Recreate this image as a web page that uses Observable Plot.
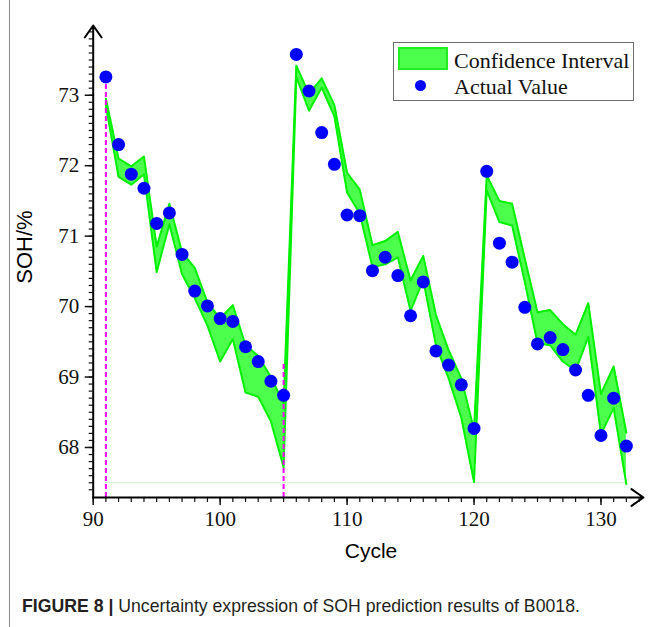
<!DOCTYPE html>
<html>
<head>
<meta charset="utf-8">
<script src="https://cdn.jsdelivr.net/npm/d3@7"></script>
<script src="https://cdn.jsdelivr.net/npm/@observablehq/plot@0.6"></script>
<style>
  html, body { margin: 0; padding: 0; background: #fff; }
  #wrap { position: relative; width: 651px; height: 627px; overflow: hidden; }
  #chart svg text { font-family: "Liberation Serif", "Times New Roman", serif !important; }
  #border { position: absolute; left: 9px; top: 0; width: 1px; height: 627px; background: #8c8c8c; }
  .legend { position: absolute; left: 393px; top: 42px; width: 239px; height: 57px; border: 1px solid #6d6d6d; background: #fff; }
  .sw { position: absolute; left: 4px; top: 4px; width: 46px; height: 19px; background: #4dff4d; border: 2px solid #22ee22; }
  .ld { position: absolute; left: 21px; top: 37px; width: 11px; height: 11px; border-radius: 50%; background: #0000ff; }
  .lt { position: absolute; left: 60px; font-family: "Liberation Serif", "Times New Roman", serif; font-size: 22px; color: #111; line-height: 1; white-space: nowrap; }
  .ytitle { position: absolute; left: 25px; top: 247px; transform: translate(-50%, -50%) rotate(-90deg); font-family: "Liberation Sans", Arial, sans-serif; font-size: 22px; color: #000; white-space: nowrap; }
  .xtitle { position: absolute; left: 371px; top: 551px; transform: translate(-50%, -50%); font-family: "Liberation Sans", Arial, sans-serif; font-size: 21px; color: #000; white-space: nowrap; }
  .caption { position: absolute; left: 22px; top: 595px; font-family: "Liberation Sans Narrow", "Arial Narrow", "Liberation Sans", sans-serif; font-size: 19px; color: #231f20; white-space: nowrap; transform-origin: 0 0; transform: scaleX(0.93); }
  .caption b { font-weight: bold; }
</style>
</head>
<body>
<div id="wrap">
  <div id="chart"></div>
  <div id="border"></div>
  <div class="legend">
    <div class="sw"></div>
    <div class="lt" style="top:7px">Confidence Interval</div>
    <div class="ld"></div>
    <div class="lt" style="top:33px">Actual Value</div>
  </div>
  <div class="ytitle">SOH/%</div>
  <div class="xtitle">Cycle</div>
  <div class="caption"><b>FIGURE 8 |</b> Uncertainty expression of SOH prediction results of B0018.</div>
</div>
<script>
// ---- data ----
const cycles = [91, 92, 93, 94, 95, 96, 97, 98, 99, 100, 101, 102, 103, 104, 105,
  106, 107, 108, 109, 110, 111, 112, 113, 114, 115, 116, 117, 118, 119, 120,
  121, 122, 123, 124, 125, 126, 127, 128, 129, 130, 131, 132];
const actualValue = [73.26, 72.30, 71.88, 71.68, 71.18, 71.33, 70.74, 70.22, 70.01, 69.83, 69.79, 69.43, 69.22, 68.94, 68.74,
  73.58, 73.06, 72.47, 72.02, 71.30, 71.29, 70.51, 70.70, 70.44, 69.87, 70.35, 69.37, 69.17, 68.89, 68.27,
  71.92, 70.90, 70.63, 69.99, 69.47, 69.56, 69.39, 69.10, 68.74, 68.17, 68.70, 68.02];
const ciLower = [72.85, 71.84, 71.73, 71.88, 70.49, 71.17, 70.46, 70.12, 69.73, 69.22, 69.54, 68.78, 68.72, 68.37, 67.72,
  73.26, 72.78, 73.11, 72.70, 71.62, 71.32, 70.56, 70.60, 70.70, 69.94, 70.38, 69.45, 68.98, 68.42, 67.51,
  71.65, 71.20, 71.15, 70.35, 69.48, 69.45, 69.22, 69.09, 69.57, 68.19, 68.56, 67.48];
const ciUpper = [72.95, 72.10, 71.99, 72.13, 70.85, 71.46, 70.77, 70.55, 70.06, 69.83, 70.02, 69.45, 69.30, 69.00, 68.62,
  73.42, 73.02, 73.24, 72.86, 71.90, 71.66, 70.87, 70.93, 71.06, 70.37, 70.72, 69.88, 69.38, 68.98, 68.25,
  71.86, 71.50, 71.46, 70.68, 69.92, 69.95, 69.75, 69.60, 70.05, 68.76, 69.15, 68.21];
const markerCycles = [91, 105];
const markerTops = [73.26, 69.21];
const baselineValue = 67.5;
const yTickValues = [68, 69, 70, 71, 72, 73];
const xTickValues = [90, 100, 110, 120, 130];
const xDomain = [90, 133.35];
const yDomain = [67.29, 73.99];

// ---- build ----
const data = cycles.map((c, i) => ({cycle: c, actual: actualValue[i], lo: ciLower[i], hi: ciUpper[i]}));
const markers = markerCycles.map((c, i) => ({cycle: c, top: markerTops[i]}));
const yMinor = d3.range(Math.round(yDomain[0] * 10) + 1, Math.round(yDomain[1] * 10)).map(d => d / 10);
const xMinor = d3.range(xDomain[0], Math.floor(xDomain[1]) + 1);
const serif = "'Liberation Serif', 'Times New Roman', serif";

const chart = Plot.plot({
  width: 651,
  height: 627,
  marginLeft: 92.7,
  marginRight: 8,
  marginTop: 25,
  marginBottom: 130,
  style: {fontFamily: serif, fontSize: "21px", background: "transparent", color: "#111"},
  x: {domain: xDomain, axis: null},
  y: {domain: yDomain, axis: null},
  marks: [
    Plot.ruleY([baselineValue], {x1: cycles[0], x2: cycles[cycles.length - 1], stroke: "#c9f5c9", strokeWidth: 1}),
    Plot.areaY(data, {x: "cycle", y1: "lo", y2: "hi", fill: "#4dff4d", curve: "linear"}),
    Plot.line(data, {x: "cycle", y: "lo", stroke: "#00f000", strokeWidth: 2}),
    Plot.line(data, {x: "cycle", y: "hi", stroke: "#00f000", strokeWidth: 2}),
    Plot.ruleX(markers, {x: "cycle", y1: yDomain[0], y2: "top", stroke: "#ff00ff", strokeWidth: 2, strokeDasharray: "5,3"}),
    Plot.dot(data, {x: "cycle", y: "actual", r: 6.5, fill: "#0000ff"}),
    // minor ticks
    Plot.axisY({ticks: yMinor, tickSize: 4, tickFormat: () => "", label: null, strokeWidth: 1.2}),
    Plot.axisX({ticks: xMinor, tickSize: 5, tickFormat: () => "", label: null, strokeWidth: 1.2}),
    // major ticks
    Plot.axisY({ticks: yTickValues, tickSize: 8, tickPadding: 6, tickFormat: d => String(d), label: null, strokeWidth: 1.5, fontSize: 21, fontFamily: serif}),
    Plot.axisX({ticks: xTickValues, tickSize: 8, tickPadding: 6, tickFormat: d => String(d), label: null, strokeWidth: 1.5, fontSize: 21, fontFamily: serif}),
    // axis lines with arrows
    Plot.arrow([0], {x1: xDomain[0], y1: yDomain[0], x2: xDomain[0], y2: yDomain[1], stroke: "#000", strokeWidth: 2, headLength: 11, headAngle: 70}),
    Plot.arrow([0], {x1: xDomain[0], y1: yDomain[0], x2: xDomain[1], y2: yDomain[0], stroke: "#000", strokeWidth: 2, headLength: 11, headAngle: 70})
  ]
});
document.getElementById("chart").appendChild(chart);
</script>
</body>
</html>
